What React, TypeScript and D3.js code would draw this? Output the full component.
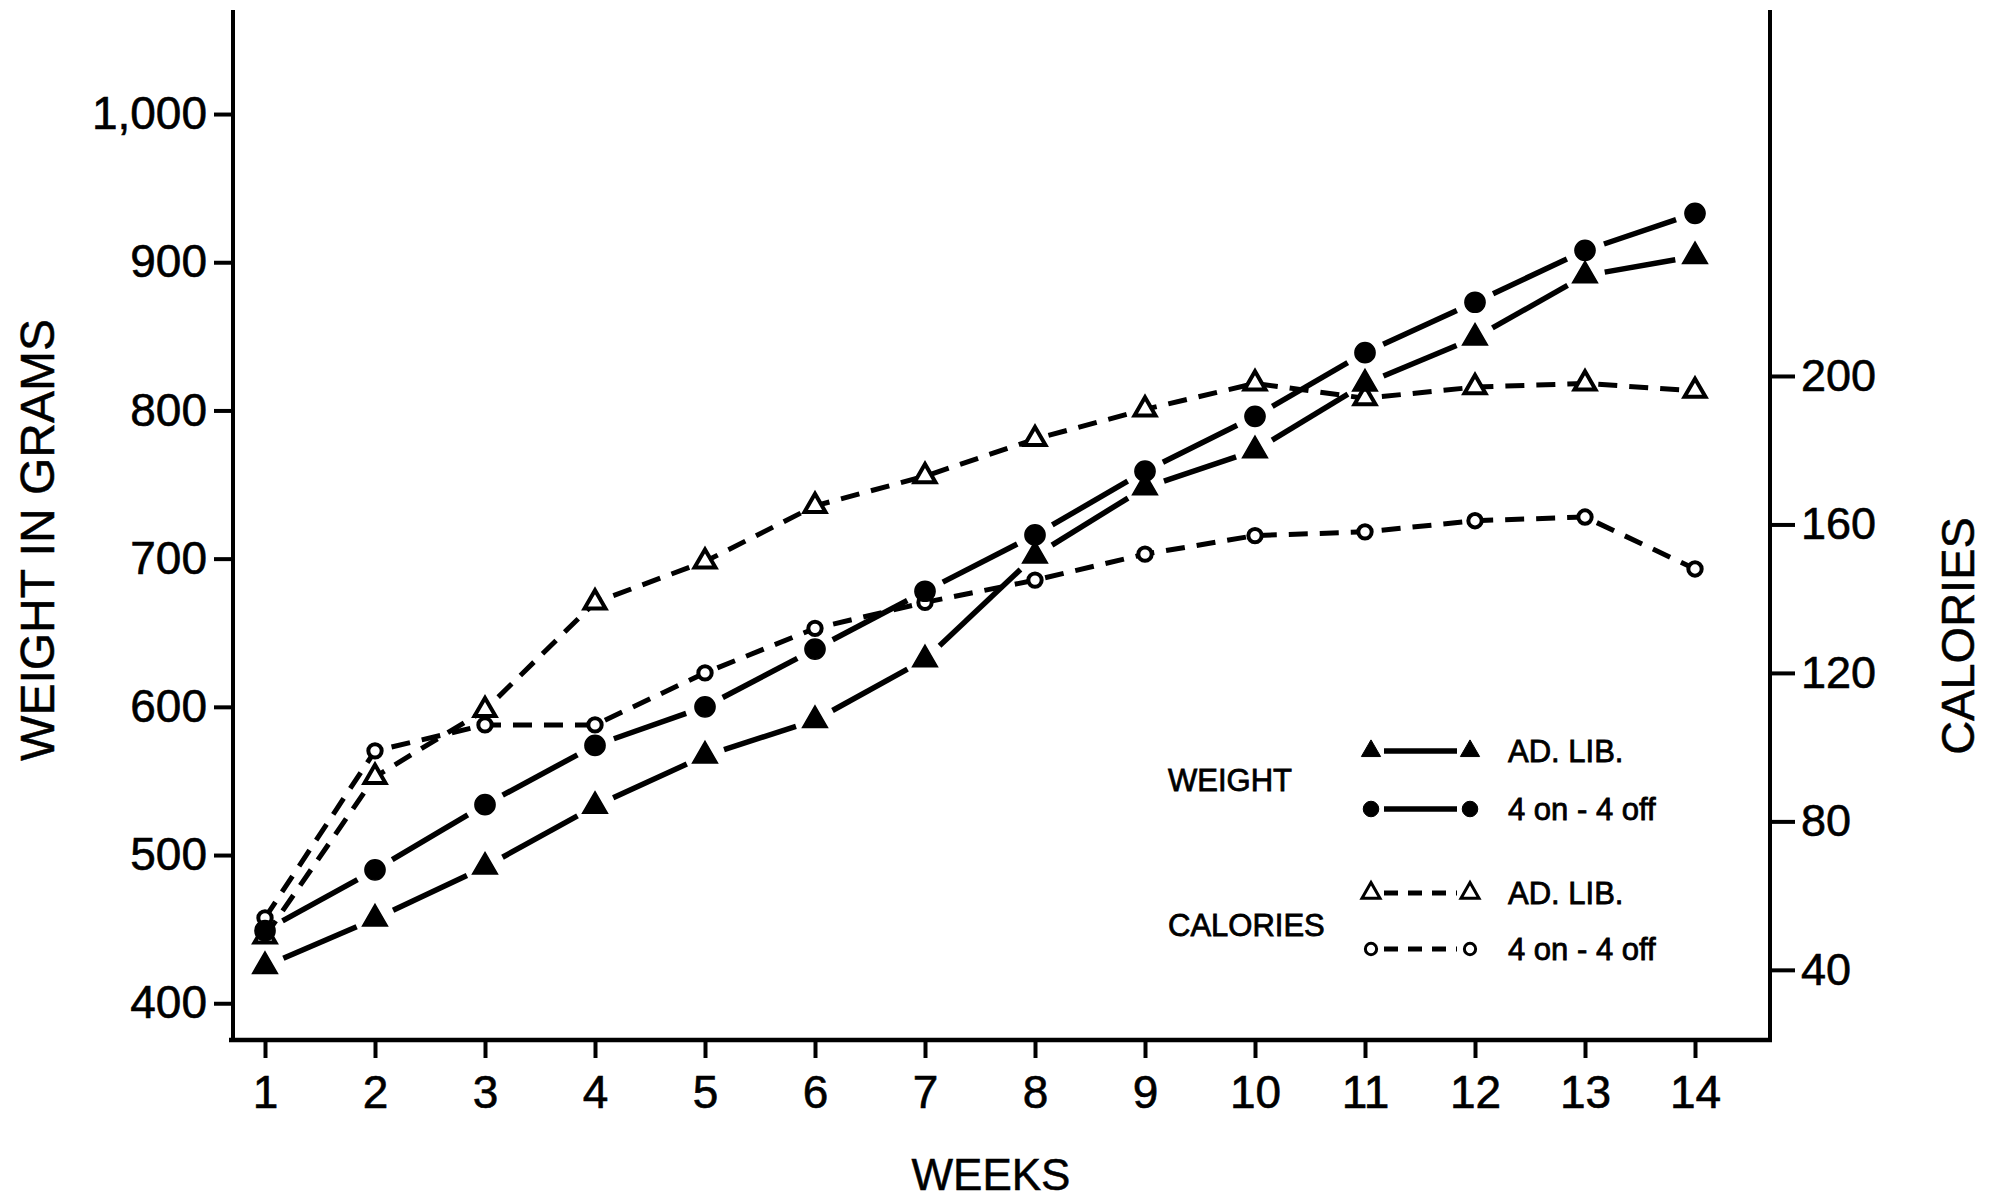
import React, { useEffect, useRef } from 'react'
import * as d3 from 'd3'

// values
const weeks = [1, 2, 3, 4, 5, 6, 7, 8, 9, 10, 11, 12, 13, 14]
const weightAdLib = [425, 457, 492, 533, 567, 591, 632, 702, 748, 773, 818, 849, 891, 904]
const weightOnOff = [449, 490, 534, 574, 600, 639, 678, 716, 759, 796, 839, 873, 908, 933]
const caloriesAdLib = [49, 92, 110, 139, 150, 165, 173, 183, 191, 198, 194, 197, 198, 196]
const caloriesOnOff = [54, 99, 106, 106, 120, 132, 139, 145, 152, 157, 158, 161, 162, 148]

const weightTicks = [400, 500, 600, 700, 800, 900, 1000]
const calorieTicks = [40, 80, 120, 160, 200]

const W = 1995
const H = 1198
const FONT = '"Liberation Sans", Arial, Helvetica, sans-serif'

function App() {
    const node = useRef<SVGSVGElement | null>(null)

    useEffect(() => {
	const svg = d3.select(node.current)
	svg.selectAll('*').remove()

	const top = 10, bottom = 1040, left = 233, right = 1770

	const x = d3.scaleLinear().domain([1, 14]).range([265, 1695])
	const yW = d3.scaleLinear().domain([375.2, 1070.2]).range([bottom, top])
	const yC = d3.scaleLinear().domain([21.1, 298.6]).range([bottom, top])

	// axis frame lines
	svg.append('line').attr('x1', left).attr('x2', left).attr('y1', top).attr('y2', bottom + 2)
	    .attr('stroke', '#000').attr('stroke-width', 4)
	svg.append('line').attr('x1', right).attr('x2', right).attr('y1', top).attr('y2', bottom + 2)
	    .attr('stroke', '#000').attr('stroke-width', 4)
	svg.append('line').attr('x1', left - 4).attr('x2', right + 2).attr('y1', bottom).attr('y2', bottom)
	    .attr('stroke', '#000').attr('stroke-width', 4.5)

	const styleAxis = (g: any, size: number) => {
	    g.select('.domain').remove()
	    g.selectAll('.tick line').attr('stroke', '#000').attr('stroke-width', 4)
	    g.selectAll('.tick text').attr('fill', '#000')
		.attr('stroke', '#000').attr('stroke-width', 0.6)
		.style('font-family', FONT).style('font-size', size + 'px')
	}

	svg.append('g').attr('transform', `translate(${left},0)`)
	    .call(d3.axisLeft(yW).tickValues(weightTicks).tickFormat(d3.format(',')).tickSize(19).tickPadding(7))
	    .call((g: any) => styleAxis(g, 46))

	svg.append('g').attr('transform', `translate(${right},0)`)
	    .call(d3.axisRight(yC).tickValues(calorieTicks).tickSize(25).tickPadding(6))
	    .call((g: any) => styleAxis(g, 45))

	svg.append('g').attr('transform', `translate(0,${bottom})`)
	    .call(d3.axisBottom(x).tickValues(weeks).tickFormat(d3.format('d')).tickSize(18).tickPadding(17))
	    .call((g: any) => styleAxis(g, 46))

	// axis titles
	const title = (t: string, tr: string, size: number) =>
	    svg.append('text').attr('transform', tr)
		.attr('text-anchor', 'middle').style('font-family', FONT).style('font-size', size + 'px')
		.attr('stroke', '#000').attr('stroke-width', 0.5)
		.text(t)
	title('WEIGHT IN GRAMS', 'translate(54,540) rotate(-90)', 48)
	title('CALORIES', 'translate(1974,636) rotate(-90)', 47)
	title('WEEKS', 'translate(991,1190)', 44)

	// solid lines stop a little short of the markers
	const gappedSegments = (vals: number[], y: any, gap: number) => {
	    const pts = vals.map((v, i) => [x(weeks[i]), y(v)])
	    const segs: number[][] = []
	    for (let i = 0; i < pts.length - 1; i++) {
		const [x1, y1] = pts[i], [x2, y2] = pts[i + 1]
		const len = Math.hypot(x2 - x1, y2 - y1)
		const ux = (x2 - x1) / len, uy = (y2 - y1) / len
		segs.push([x1 + ux * gap, y1 + uy * gap, x2 - ux * gap, y2 - uy * gap])
	    }
	    return segs
	}

	const line = (y: any) => d3.line<number>().x((d, i) => x(weeks[i])).y(d => y(d))

	// dashed calorie lines
	const dashed = [caloriesAdLib, caloriesOnOff]
	dashed.forEach(vals => {
	    svg.append('path').attr('d', line(yC)(vals) as string)
		.attr('fill', 'none').attr('stroke', '#000').attr('stroke-width', 5)
		.attr('stroke-dasharray', '19 12').attr('stroke-linecap', 'butt')
	})

	// solid weight lines
	const solid = [weightAdLib, weightOnOff]
	solid.forEach(vals => {
	    svg.append('g').selectAll('line').data(gappedSegments(vals, yW, 20)).enter().append('line')
		.attr('x1', d => d[0]).attr('y1', d => d[1]).attr('x2', d => d[2]).attr('y2', d => d[3])
		.attr('stroke', '#000').attr('stroke-width', 5.5)
	})

	const tri = (size: number) => d3.symbol().type(d3.symbolTriangle).size(size)() as string
	const circ = (size: number) => d3.symbol().type(d3.symbolCircle).size(size)() as string

	const marks = (vals: number[], y: any, d: string, filled: boolean) => {
	    svg.append('g').selectAll('path').data(vals).enter().append('path')
		.attr('transform', (v, i) => `translate(${x(weeks[i])},${y(v)})`)
		.attr('d', d)
		.attr('fill', filled ? '#000' : '#fff')
		.attr('stroke', '#000')
		.attr('stroke-width', filled ? 1.5 : 4)
	}

	marks(caloriesAdLib, yC, tri(190), false)
	marks(caloriesOnOff, yC, circ(140), false)
	marks(weightAdLib, yW, tri(270), true)
	marks(weightOnOff, yW, circ(320), true)

	// legend
	const lx1 = 1371, lx2 = 1470, tx = 1508
	const rows = [751, 809, 893, 949]
	const legendText = (xx: number, yy: number, t: string) =>
	    svg.append('text').attr('x', xx).attr('y', yy).attr('dy', '0.35em')
		.style('font-family', FONT).style('font-size', '31px')
		.attr('stroke', '#000').attr('stroke-width', 0.8)
		.text(t)

	legendText(1168, 780, 'WEIGHT')
	legendText(1168, 925, 'CALORIES')

	const legendLine = (yy: number, dashedLine: boolean) => {
	    const l = svg.append('line').attr('x1', lx1 + 13).attr('x2', lx2 - 13).attr('y1', yy).attr('y2', yy)
		.attr('stroke', '#000').attr('stroke-width', 5.5)
	    if (dashedLine) l.attr('stroke-dasharray', '14 10').attr('stroke-width', 5)
	}
	const legendMark = (yy: number, d: string, filled: boolean) => {
	    [lx1, lx2].forEach(xx => {
		svg.append('path').attr('transform', `translate(${xx},${yy})`).attr('d', d)
		    .attr('fill', filled ? '#000' : '#fff').attr('stroke', '#000')
		    .attr('stroke-width', filled ? 1 : 3)
	    })
	}

	legendLine(rows[0], false); legendMark(rows[0], tri(160), true)
	legendText(tx, rows[0], 'AD. LIB.')
	legendLine(rows[1], false); legendMark(rows[1], circ(190), true)
	legendText(tx, rows[1], '4 on - 4 off')
	legendLine(rows[2], true); legendMark(rows[2], tri(140), false)
	legendText(tx, rows[2], 'AD. LIB.')
	legendLine(rows[3], true); legendMark(rows[3], circ(100), false)
	legendText(tx, rows[3], '4 on - 4 off')
    }, [])

    return (
	<svg ref={node} width={W} height={H}
	     style={{ position: 'absolute', left: 0, top: 0, background: '#fff' }} />
    )
}

export default App
